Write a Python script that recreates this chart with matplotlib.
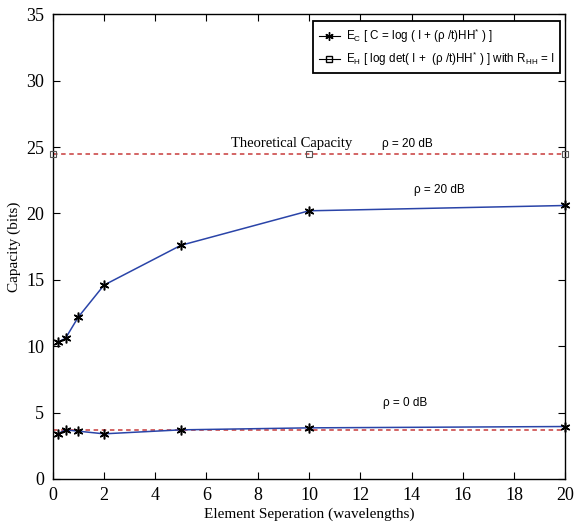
import numpy as np
import matplotlib
matplotlib.use('Agg')
import matplotlib.pyplot as plt
from matplotlib.lines import Line2D

# element separation (wavelengths)
sep = [0.2, 0.5, 1, 2, 5, 10, 20]
# capacity, rho = 20 dB and rho = 0 dB
cap_20 = [10.3, 10.6, 12.2, 14.6, 17.6, 20.2, 20.6]
cap_0 = [3.4, 3.7, 3.6, 3.4, 3.7, 3.85, 3.95]
# theoretical capacity (R_HH = I)
theo_x = [0, 10, 20]
theo_20 = [24.5, 24.5, 24.5]
theo_0 = [3.72, 3.72, 3.72]

serif = ['Liberation Serif', 'DejaVu Serif']
sans = ['Liberation Sans', 'DejaVu Sans']

fig = plt.figure(figsize=(5.76, 5.31), dpi=100)
ax = fig.add_axes([0.0915, 0.098, 0.89, 0.875])

blue = '#2a44a8'
red = '#d05858'
ax.plot(theo_x, theo_20, color=red, ls=(0, (2.5, 2)), lw=1.3, zorder=2)
ax.plot(theo_x, theo_20, ls='none', marker='s', ms=5, mfc='none', mec='#555555', mew=0.8, zorder=3, clip_on=False)
ax.plot(theo_x, theo_0, color=red, ls=(0, (2.5, 2)), lw=1.3, zorder=2)
ax.plot(sep, cap_20, color=blue, lw=1.1, zorder=3)
ax.plot(sep, cap_20, ls='none', marker=(6, 2, 0), ms=7, mec='black', mew=1.1, zorder=4, clip_on=False)
ax.plot(sep, cap_0, color=blue, lw=1.1, zorder=3)
ax.plot(sep, cap_0, ls='none', marker=(6, 2, 0), ms=7, mec='black', mew=1.1, zorder=4, clip_on=False)

ax.set_xlim(0, 20)
ax.set_ylim(0, 35)
ax.set_xticks(np.arange(0, 21, 2))
ax.set_yticks(np.arange(0, 36, 5))
ax.tick_params(direction='in', top=True, right=True, length=5, width=0.8, labelsize=13, pad=6)
for lab in ax.get_xticklabels() + ax.get_yticklabels():
    lab.set_family(serif)
for s in ax.spines.values():
    s.set_linewidth(1.0)

ax.set_xlabel('Element Seperation (wavelengths)', family=serif, fontsize=11, labelpad=2)
ax.set_ylabel('Capacity (bits)', family=serif, fontsize=11, labelpad=4)

ax.text(6.95, 24.75, 'Theoretical Capacity', family=serif, fontsize=10.5, va='bottom')
ax.text(12.85, 24.75, r'ρ = 20 dB', family=sans, fontsize=8.5, va='bottom')
ax.text(14.1, 21.3, r'ρ = 20 dB', family=sans, fontsize=8.5, va='bottom')
ax.text(12.9, 5.3, r'ρ = 0 dB', family=sans, fontsize=8.5, va='bottom')

handles = [
    Line2D([], [], color='black', lw=0.8, marker=(6, 2, 0), ms=6, mec='black'),
    Line2D([], [], color='black', lw=0.8, marker='s', ms=5, mfc='none', mec='black'),
]
labels = [
    r'E$_\mathregular{C}$ [ C = log ( I + (ρ /t)HH$^\mathregular{*}$ ) ]',
    r'E$_\mathregular{H}$ [ log det( I +  (ρ /t)HH$^\mathregular{*}$ ) ] with R$_\mathregular{HH}$ = I',
]
leg = ax.legend(handles, labels, loc='upper right', bbox_to_anchor=(0.99, 0.985),
                prop={'family': sans, 'size': 8.4}, handlelength=1.8, handletextpad=0.5,
                borderaxespad=0.0, borderpad=0.5, fancybox=False, edgecolor='black',
                framealpha=1, labelspacing=0.35)
leg.get_frame().set_linewidth(1.3)

fig.savefig('out.png', dpi=100)
